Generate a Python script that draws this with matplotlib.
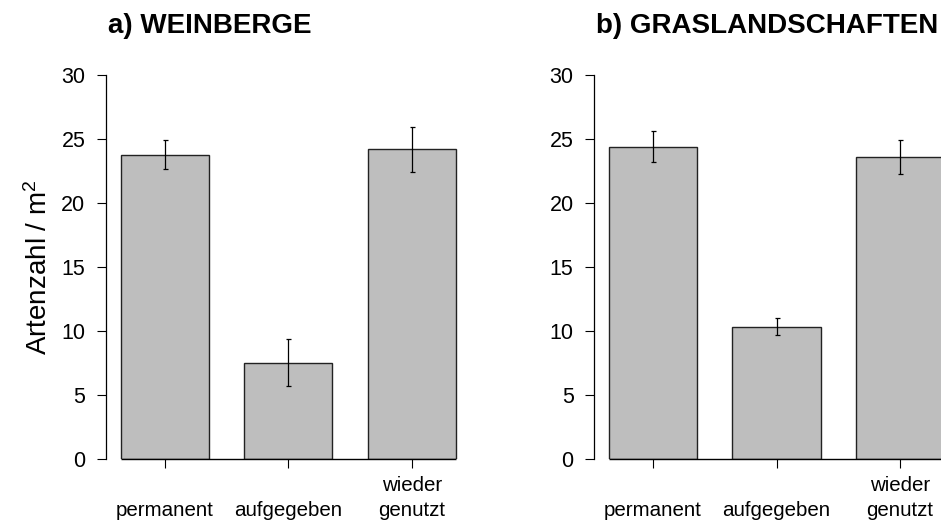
import matplotlib.pyplot as plt
import numpy as np

plt.rcParams['font.family'] = ['Liberation Sans', 'DejaVu Sans']
plt.rcParams['mathtext.fontset'] = 'custom'
plt.rcParams['mathtext.rm'] = 'Liberation Sans'
plt.rcParams['mathtext.it'] = 'Liberation Sans:italic'

# Data
categories = ['permanent', 'aufgegeben', 'wieder\ngenutzt']
titles = ['a) WEINBERGE', 'b) GRASLANDSCHAFTEN']
yticks = [0, 5, 10, 15, 20, 25, 30]

wein_mean = [23.8, 7.5, 24.2]
wein_low = [22.65, 5.65, 22.4]
wein_high = [24.95, 9.4, 25.95]

gras_mean = [24.4, 10.3, 23.6]
gras_low = [23.2, 9.65, 22.3]
gras_high = [25.65, 11.0, 24.95]

W, H = 941, 521
fig = plt.figure(figsize=(W / 100, H / 100), dpi=100)

# axes geometry in pixels (R-style base plot)
ax_bottom = 458.7
ax_top = 75.3
xlim = (0.234, 4.3)
px_per_unit = 88.2
ax_w = (xlim[1] - xlim[0]) * px_per_unit


def draw_panel(left_px, mean, low, high, title):
    ax = fig.add_axes([left_px / W, (H - ax_bottom) / H,
                       ax_w / W, (ax_bottom - ax_top) / H])
    pos = 0.9 + 1.4 * np.arange(len(mean))
    mean = np.array(mean)
    yerr = [mean - np.array(low), np.array(high) - mean]

    ax.bar(pos, mean, width=1.0, color='#bebebe', edgecolor='#222222',
           linewidth=1.0, zorder=2)
    ax.errorbar(pos, mean, yerr=yerr, fmt='none', ecolor='black',
                elinewidth=0.9, capsize=1.8, capthick=0.9, zorder=3)
    ax.hlines(0, pos[0] - 0.5, pos[-1] + 0.5, color='black', lw=1.0,
              clip_on=False, zorder=4)

    ax.set_xlim(*xlim)
    ax.set_ylim(0, 30)
    for s in ['top', 'right', 'bottom']:
        ax.spines[s].set_visible(False)
    ax.spines['left'].set_bounds(0, 30)
    ax.spines['left'].set_linewidth(0.9)

    ax.set_yticks(yticks)
    ax.tick_params(axis='y', direction='out', length=6.5, width=0.8,
                   pad=8.4, labelsize=15.5)
    ax.set_xticks(pos)
    ax.tick_params(axis='x', direction='out', length=6.5, width=0.8,
                   labelbottom=False)

    for p, lab in zip(pos, categories):
        ax.text(p, -0.159, lab, transform=ax.get_xaxis_transform(),
                ha='center', va='bottom', fontsize=14.8, linespacing=1.38)

    ax.text(0.006, 1.11, title, transform=ax.transAxes, fontsize=20,
            fontweight='bold', ha='left', va='baseline')
    return ax


draw_panel(106.0, wein_mean, wein_low, wein_high, titles[0])
draw_panel(594.3, gras_mean, gras_low, gras_high, titles[1])

fig.text(47 / W, 1 - 267.5 / H, 'Artenzahl / m$^2$', rotation=90,
         rotation_mode='anchor', ha='center', va='baseline', fontsize=20)

fig.savefig('out.png', dpi=100)
